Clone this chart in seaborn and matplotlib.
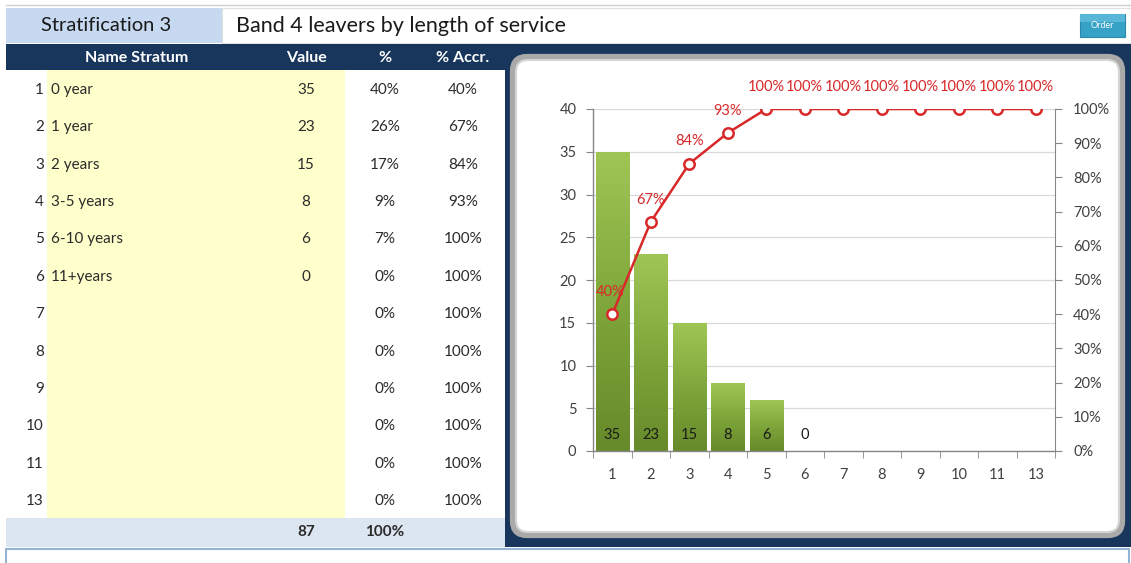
import numpy as np
import pandas as pd
import matplotlib
matplotlib.use("Agg")
import matplotlib.pyplot as plt
from matplotlib.patches import Rectangle, FancyBboxPatch
from matplotlib.colors import LinearSegmentedColormap
from matplotlib.ticker import PercentFormatter
import seaborn as sns

# ---------------- data ----------------
row_ids = ["1", "2", "3", "4", "5", "6", "7", "8", "9", "10", "11", "13"]
names = ["0 year", "1 year", "2 years", "3-5 years", "6-10 years", "11+years",
         "", "", "", "", "", ""]
values = [35, 23, 15, 8, 6, 0]          # filled strata only (rows 1-6)
pct = [40, 26, 17, 9, 7, 0, 0, 0, 0, 0, 0, 0]
cum_pct = [40, 67, 84, 93, 100, 100, 100, 100, 100, 100, 100, 100]
total_value = 87
total_pct = 100
title_left = "Stratification 3"
title_main = "Band 4 leavers by length of service"
headers = ["Name Stratum", "Value", "%", "% Accr."]
button_text = "Order"

n = len(row_ids)
bar_values = values + [0] * (n - len(values))
df = pd.DataFrame({"cat": row_ids, "value": bar_values, "cum": [c / 100 for c in cum_pct]})

# ---------------- style ----------------
plt.rcParams["font.family"] = ["Lato", "DejaVu Sans"]
NAVY = "#18365c"
RED = "#d8282a"
GRAY = "#868686"
TXT = "#2b2b2b"
TFS = 11

W, H = 1131, 563
fig = plt.figure(figsize=(W / 100, H / 100), dpi=100)
fig.patch.set_facecolor("white")

# background "canvas" axes in pixel coordinates (y downwards)
bg = fig.add_axes([0, 0, 1, 1])
bg.set_xlim(0, W)
bg.set_ylim(H, 0)
bg.axis("off")
bg.set_zorder(-5)

# top line
bg.plot([6, W], [5, 5], color="#d0d0d0", lw=1)
# header boxes
bg.add_patch(Rectangle((6, 8), 216, 35, facecolor="#c6d9f0", edgecolor="none"))
bg.add_patch(Rectangle((222, 8), W - 222, 35, facecolor="white", edgecolor="#e0e0e0", lw=0.8))
bg.text(106, 25.5, title_left, ha="center", va="center", fontsize=14.5, color="#1a1a1a")
bg.text(236, 25.5, title_main, ha="left", va="center", fontsize=15.5, color="#1a1a1a")
# order button
bg.add_patch(Rectangle((1080, 14), 45, 23, facecolor="#35a2c6", edgecolor="#2a8aab", lw=0.8))
bg.add_patch(Rectangle((1080, 14), 45, 8, facecolor="#58b7d6", edgecolor="none"))
bg.text(1102.5, 25.5, button_text, ha="center", va="center", fontsize=6.5, color="white")

# navy areas
bg.add_patch(Rectangle((6, 44), 499, 26, facecolor=NAVY, edgecolor="none"))
bg.add_patch(Rectangle((505, 44), W - 505, 503, facecolor=NAVY, edgecolor="none"))

# table yellow column + total row
bg.add_patch(Rectangle((47, 70), 298, 448, facecolor="#ffffcc", edgecolor="none"))
bg.add_patch(Rectangle((6, 518), 499, 29, facecolor="#dce6f1", edgecolor="none"))

# bottom box
bg.add_patch(Rectangle((6, 549), W - 8, 20, facecolor="white", edgecolor="#95b3d7", lw=1.5))

# header texts
hx = [137, 306, 385, 463]
for x, t in zip(hx, headers):
    bg.text(x, 58, t, ha="center", va="center", fontsize=11.5, fontweight="bold", color="white")

# table rows
y0, dy = 90, (501 - 90) / 11
for i in range(n):
    y = y0 + i * dy
    bg.text(44, y, row_ids[i], ha="right", va="center", fontsize=TFS, color=TXT)
    if names[i]:
        bg.text(51, y, names[i], ha="left", va="center", fontsize=TFS, color=TXT)
    if i < len(values):
        bg.text(306, y, str(values[i]), ha="center", va="center", fontsize=TFS, color=TXT)
    bg.text(385, y, f"{pct[i]}%", ha="center", va="center", fontsize=TFS, color=TXT)
    bg.text(463, y, f"{cum_pct[i]}%", ha="center", va="center", fontsize=TFS, color=TXT)
bg.text(306, 532, str(total_value), ha="center", va="center", fontsize=TFS,
        fontweight="bold", color=TXT)
bg.text(385, 532, f"{total_pct}%", ha="center", va="center", fontsize=TFS,
        fontweight="bold", color=TXT)

# chart panel
bg.add_patch(FancyBboxPatch((513, 57), 609, 478, boxstyle="round,pad=0,rounding_size=14",
                            facecolor="white", edgecolor="#a9a9a9", lw=4.5))
bg.add_patch(FancyBboxPatch((516, 60), 603, 472, boxstyle="round,pad=0,rounding_size=12",
                            facecolor="white", edgecolor="#d4d4d4", lw=1.5))

# ---------------- chart ----------------
ax = fig.add_axes([593 / W, 1 - 451 / H, 462 / W, 342 / H])
ax.patch.set_alpha(0)
sns.barplot(data=df, x="cat", y="value", order=row_ids, color="#84ad3e",
            width=0.86, saturation=1, ax=ax, zorder=2)

# gradient fill on bars
cmap = LinearSegmentedColormap.from_list("g", ["#678a2a", "#7fa73b", "#9fc655"])
grad = np.linspace(0, 1, 256).reshape(-1, 1)
for p in ax.patches:
    h = p.get_height()
    if h > 0:
        x0 = p.get_x()
        im = ax.imshow(grad, extent=[x0, x0 + p.get_width(), 0, h], origin="lower",
                       aspect="auto", cmap=cmap, zorder=2.5)
        im.set_clip_path(p)

ax.set_xlim(-0.5, n - 0.5)
ax.set_ylim(0, 40)
ax.set_yticks(range(0, 41, 5))
ax.set_xticks(range(n))
ax.set_xticklabels(row_ids)
ax.set_xticks(np.arange(-0.5, n, 1), minor=True)
ax.tick_params(axis="x", which="major", length=0, pad=12, labelsize=10.5, labelcolor="#404040")
ax.tick_params(axis="x", which="minor", length=5, color=GRAY, direction="out")
ax.tick_params(axis="y", length=5, color=GRAY, pad=7, labelsize=10.5, labelcolor="#404040")
ax.set_xlabel("")
ax.set_ylabel("")
ax.yaxis.grid(True, color="#d9d9d9", lw=0.9)
ax.set_axisbelow(True)
for s in ["top", "right"]:
    ax.spines[s].set_visible(False)
for s in ["left", "bottom"]:
    ax.spines[s].set_color(GRAY)
    ax.spines[s].set_linewidth(1)

for i in range(len(values)):
    ax.text(i, 1.9, str(values[i]), ha="center", va="center", fontsize=10.5,
            color="#1a1a1a", zorder=4)

# cumulative line
ax2 = ax.twinx()
sns.lineplot(x=np.arange(n), y=df["cum"], ax=ax2, color=RED, lw=1.8,
             marker="o", markersize=7.5, markerfacecolor="white",
             markeredgecolor=RED, markeredgewidth=1.8, zorder=5)
ax2.set_ylim(0, 1)
ax2.set_xlim(-0.5, n - 0.5)
ax2.set_yticks(np.arange(0, 1.01, 0.1))
ax2.yaxis.set_major_formatter(PercentFormatter(1.0, decimals=0))
ax2.tick_params(axis="y", length=5, color=GRAY, pad=8, labelsize=10.5, labelcolor="#404040")
ax2.set_ylabel("")
for s in ["top", "left", "bottom"]:
    ax2.spines[s].set_visible(False)
ax2.spines["right"].set_color(GRAY)

for i, c in enumerate(cum_pct):
    ax2.annotate(f"{c}%", (i, c / 100), xytext=(-1.5 if i == 0 else 0, 16),
                 textcoords="offset points", ha="center", va="center",
                 fontsize=10.5, color=RED, zorder=6)

fig.savefig("out.png", dpi=100)
